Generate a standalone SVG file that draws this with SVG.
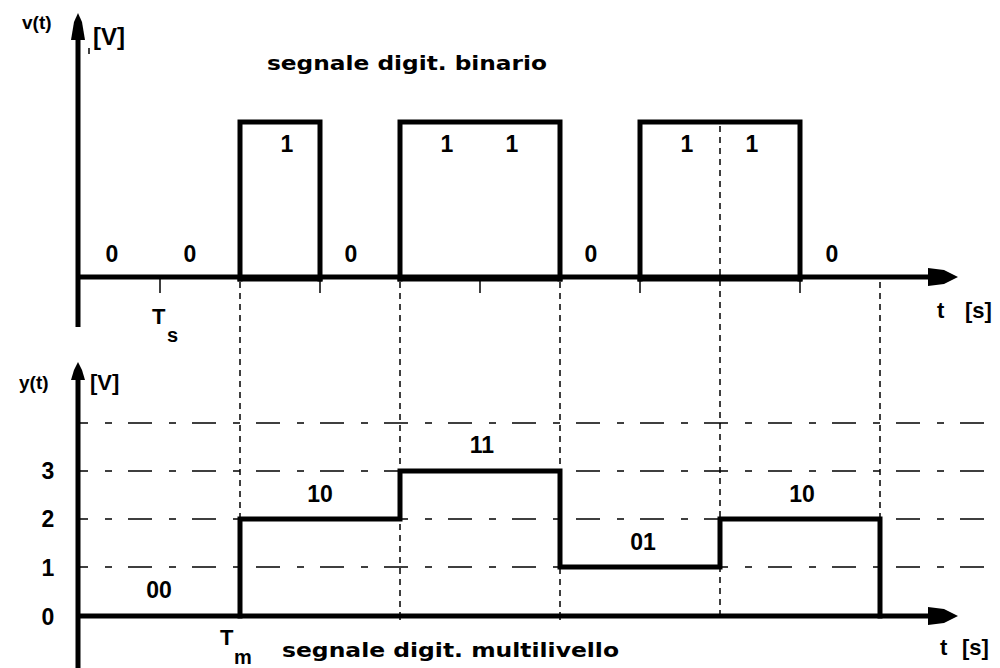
<svg xmlns="http://www.w3.org/2000/svg" width="1000" height="668" viewBox="0 0 1000 668">
<style>
.t{font-family:"Liberation Sans",Arial,sans-serif;font-weight:bold;fill:#000}
.d{font-family:"Liberation Sans",Arial,sans-serif;font-weight:bold;font-size:23px;text-anchor:middle;fill:#000}
.h{font-family:"DejaVu Sans",Verdana,sans-serif;font-weight:bold;font-size:19px;fill:#000}
.ax{stroke:#000;stroke-width:5;fill:none}
.sig{stroke:#000;stroke-width:5;fill:none;stroke-linejoin:miter;stroke-linecap:square}
.tick{stroke:#000;stroke-width:1.5}
.vd{stroke:#000;stroke-width:1.5;stroke-dasharray:6 5}
.gd{stroke:#000;stroke-width:1.5;stroke-dasharray:7 16 24 17;stroke-dashoffset:39}
</style>
<rect width="1000" height="668" fill="#fff"/>

<g id="grid">
<line class="gd" x1="80" y1="423" x2="990" y2="423"/>
<line class="gd" x1="80" y1="471" x2="990" y2="471"/>
<line class="gd" x1="80" y1="519" x2="990" y2="519"/>
<line class="gd" x1="80" y1="567" x2="990" y2="567"/>
</g>

<g id="connectors">
<line class="vd" x1="240" y1="282" x2="240" y2="614"/>
<line class="vd" x1="400" y1="282" x2="400" y2="614"/>
<line class="vd" x1="560" y1="282" x2="560" y2="614"/>
<line class="vd" x1="720" y1="126" x2="720" y2="614"/>
<line class="vd" x1="880" y1="282" x2="880" y2="614"/>
</g>

<g id="top-axes">
<line class="ax" x1="78" y1="30" x2="78" y2="327"/>
<polygon points="78,13 82,22 85,40 71,40 74,22" fill="#000"/>
<line class="ax" x1="76" y1="277" x2="932" y2="277"/>
<polygon points="928,268 944,270 958,277 944,284 928,286" fill="#000"/>
<line class="tick" x1="160" y1="277" x2="160" y2="293"/>
<line class="tick" x1="320" y1="277" x2="320" y2="293"/>
<line class="tick" x1="480" y1="277" x2="480" y2="293"/>
<line class="tick" x1="640" y1="277" x2="640" y2="293"/>
<line class="tick" x1="800" y1="277" x2="800" y2="293"/>
<line class="tick" x1="89" y1="48" x2="89" y2="54"/>
</g>

<g id="binary-signal">
<polyline class="sig" points="240,279 240,122 320,122 320,279"/>
<polyline class="sig" points="400,279 400,122 560,122 560,279"/>
<polyline class="sig" points="640,279 640,122 800,122 800,279"/>
<line class="sig" x1="240" y1="279" x2="320" y2="279"/>
<line class="sig" x1="400" y1="279" x2="560" y2="279"/>
<line class="sig" x1="640" y1="279" x2="800" y2="279"/>
</g>

<g id="top-labels">
<text class="t" x="22" y="29" font-size="19">v(t)</text>
<text class="t" x="93" y="45" font-size="24">[V]</text>
<text class="h" x="267" y="70" textLength="280" lengthAdjust="spacingAndGlyphs">segnale digit. binario</text>
<text class="d" x="112" y="262">0</text>
<text class="d" x="190" y="262">0</text>
<text class="d" x="287" y="152">1</text>
<text class="d" x="351" y="262">0</text>
<text class="d" x="447" y="152">1</text>
<text class="d" x="512" y="152">1</text>
<text class="d" x="591" y="262">0</text>
<text class="d" x="687" y="152">1</text>
<text class="d" x="752" y="152">1</text>
<text class="d" x="832" y="262">0</text>
<text class="t" x="152" y="324" font-size="22">T</text>
<text class="t" x="167" y="342" font-size="20">s</text>
<text class="t" x="937" y="318" font-size="22">t</text>
<text class="t" x="965" y="318" font-size="22">[s]</text>
</g>

<g id="bottom-axes">
<line class="ax" x1="78" y1="378" x2="78" y2="668"/>
<polygon points="78,362 82,370 85,380 71,380 74,370" fill="#000"/>
<line class="ax" x1="76" y1="616" x2="932" y2="616"/>
<polygon points="928,607 944,609 958,616 944,623 928,625" fill="#000"/>
<line class="tick" x1="400" y1="616" x2="400" y2="620"/>
<line class="tick" x1="560" y1="616" x2="560" y2="620"/>
</g>

<g id="multilevel-signal">
<polyline class="sig" points="240,616 240,519 400,519 400,471 560,471 560,567 720,567 720,519 880,519 880,616"/>
</g>

<g id="bottom-labels">
<text class="t" x="19" y="389" font-size="19">y(t)</text>
<text class="t" x="90" y="390" font-size="22">[V]</text>
<text class="d" x="48" y="479">3</text>
<text class="d" x="48" y="527">2</text>
<text class="d" x="48" y="576">1</text>
<text class="d" x="48" y="625">0</text>
<text class="d" x="159" y="598">00</text>
<text class="d" x="320" y="502">10</text>
<text class="d" x="482" y="453">11</text>
<text class="d" x="643" y="550">01</text>
<text class="d" x="802" y="502">10</text>
<text class="t" x="220" y="645" font-size="22">T</text>
<text class="t" x="234" y="664" font-size="20">m</text>
<text class="h" x="282" y="657" textLength="337" lengthAdjust="spacingAndGlyphs">segnale digit. multilivello</text>
<text class="t" x="940" y="655" font-size="22">t</text>
<text class="t" x="962" y="655" font-size="22">[s]</text>
</g>
</svg>
